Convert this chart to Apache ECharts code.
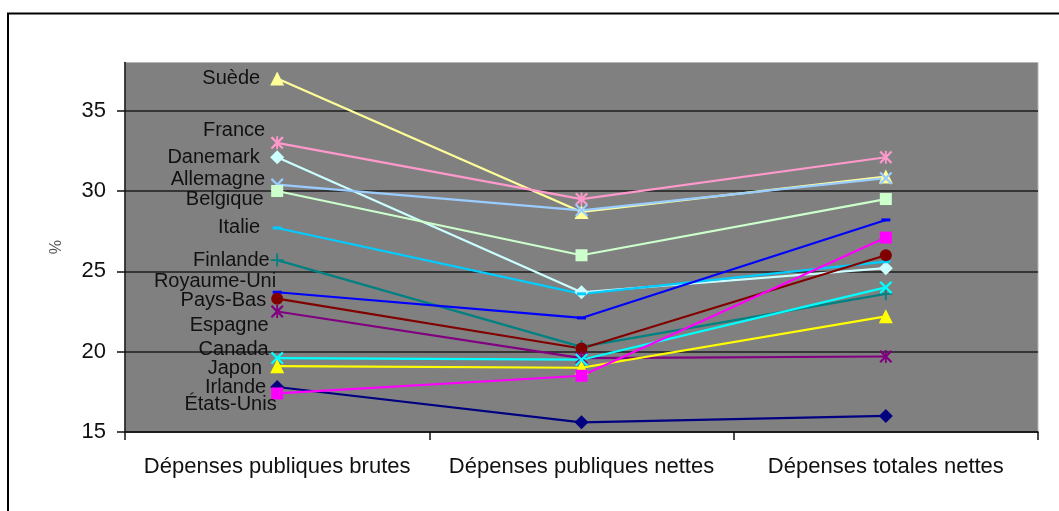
<!DOCTYPE html>
<html>
<head>
<meta charset="utf-8">
<script src="https://cdn.jsdelivr.net/npm/echarts@6/dist/echarts.min.js"></script>
<style>
  html, body { margin: 0; padding: 0; background: #fff; }
  #chart { width: 1059px; height: 511px; }
</style>
</head>
<body>
<div id="chart"></div>
<script>
// Categories (x axis) and y-axis ticks
const categories = ['Dépenses publiques brutes', 'Dépenses publiques nettes', 'Dépenses totales nettes'];
const yTicks = [15, 20, 25, 30, 35];

// Country names
const countries = ['Suède', 'France', 'Danemark', 'Allemagne', 'Belgique', 'Italie', 'Finlande',
  'Royaume-Uni', 'Pays-Bas', 'Espagne', 'Canada', 'Japon', 'Irlande', 'États-Unis'];

// Social expenditure, % of GDP: gross public, net public, net total
const suede      = [37.0, 28.7, 30.9];
const france     = [33.0, 29.5, 32.1];
const danemark   = [32.1, 23.7, 25.2];
const allemagne  = [30.4, 28.8, 30.8];
const belgique   = [30.0, 26.0, 29.5];
const italie     = [27.7, 23.6, 25.6];
const finlande   = [25.7, 20.3, 23.6];
const royaumeUni = [23.7, 22.1, 28.2];
const paysBas    = [23.3, 20.2, 26.0];
const espagne    = [22.5, 19.6, 19.7];
const canada     = [19.6, 19.5, 24.0];
const japon      = [19.1, 19.0, 22.2];
const irlande    = [17.8, 15.6, 16.0];
const etatsUnis  = [17.4, 18.5, 27.1];

const values = [suede, france, danemark, allemagne, belgique, italie, finlande,
  royaumeUni, paysBas, espagne, canada, japon, irlande, etatsUnis];

// Marker shapes
const X_PATH = 'M0,1.2L1.2,0L5,3.8L8.8,0L10,1.2L6.2,5L10,8.8L8.8,10L5,6.2L1.2,10L0,8.8L3.8,5Z';
const SYM = {
  tri: 'triangle',
  diamond: 'diamond',
  square: 'rect',
  circle: 'circle',
  cross: 'path://' + X_PATH,
  star: 'path://' + X_PATH + 'M4.3,0H5.7V10H4.3Z',
  plus: 'path://M4.3,0H5.7V10H4.3ZM0,4.3H10V5.7H0Z',
  dash: 'path://M0,0H10V3H0Z'
};

// Per-series look: colour, marker, marker size, name-label gap and vertical nudge
const looks = [
  { color: '#FFFF99', sym: SYM.tri,     size: 14,     gap: 17,  dy: 0 },
  { color: '#FF99CC', sym: SYM.star,    size: 13,     gap: 12,  dy: -12 },
  { color: '#CCFFFF', sym: SYM.diamond, size: 14,     gap: 17.5, dy: 0 },
  { color: '#99CCFF', sym: SYM.cross,   size: 13,     gap: 12,  dy: -5 },
  { color: '#CCFFCC', sym: SYM.square,  size: 12,     gap: 13.5, dy: 8 },
  { color: '#00CCFF', sym: SYM.dash,    size: [9, 3], gap: 17,  dy: 0 },
  { color: '#008080', sym: SYM.plus,    size: 13,     gap: 7.5, dy: 0 },
  { color: '#0000FF', sym: SYM.dash,    size: [9, 3], gap: 1,   dy: -10.5 },
  { color: '#800000', sym: SYM.circle,  size: 12,     gap: 11,  dy: 2 },
  { color: '#800080', sym: SYM.star,    size: 13,     gap: 8.5, dy: 14 },
  { color: '#00FFFF', sym: SYM.cross,   size: 13,     gap: 8.5, dy: -9 },
  { color: '#FFFF00', sym: SYM.tri,     size: 14,     gap: 15,  dy: 2 },
  { color: '#000080', sym: SYM.diamond, size: 14,     gap: 11,  dy: 0 },
  { color: '#FF00FF', sym: SYM.square,  size: 12,     gap: 0.5, dy: 11 }
];

const FONT = '"Liberation Sans", Arial, sans-serif';

const series = countries.map((name, i) => {
  const lk = looks[i];
  const half = Array.isArray(lk.size) ? lk.size[0] / 2 : lk.size / 2;
  const data = values[i].map((v, j) => {
    if (j !== 0) return v;
    return {
      value: v,
      label: {
        show: true,
        position: 'left',
        distance: 0,
        offset: [-(lk.gap - half), lk.dy],
        formatter: name,
        color: '#111',
        fontSize: 20,
        fontFamily: FONT
      }
    };
  });
  return {
    name,
    type: 'line',
    data,
    symbol: lk.sym,
    symbolSize: lk.size,
    showAllSymbol: true,
    color: lk.color,
    lineStyle: { color: lk.color, width: 2.2 },
    itemStyle: { color: lk.color, borderColor: lk.color, borderWidth: 0 },
    label: { show: false },
    emphasis: { disabled: true },
    animation: false
  };
});

const chart = echarts.init(document.getElementById('chart'), null, { renderer: 'canvas' });
chart.setOption({
  backgroundColor: '#ffffff',
  animation: false,
  textStyle: { fontFamily: FONT },
  graphic: [{
    type: 'rect',
    silent: true,
    z: -10,
    shape: { x: 8, y: 13.5, width: 1200, height: 700 },
    style: { fill: 'none', stroke: '#000', lineWidth: 2 }
  }],
  grid: {
    left: 125, right: 21, top: 62.5, bottom: 79,
    show: true,
    backgroundColor: '#808080',
    borderColor: '#b4b4b4',
    borderWidth: 1
  },
  xAxis: {
    type: 'category',
    data: categories,
    boundaryGap: true,
    axisLine: { show: true, lineStyle: { color: '#111', width: 1.5 } },
    axisTick: { show: true, length: 8, inside: false, alignWithLabel: false, lineStyle: { color: '#111', width: 1.5 } },
    axisLabel: { color: '#111', fontSize: 22, margin: 24, fontFamily: FONT, interval: 0 },
    splitLine: { show: false }
  },
  yAxis: {
    type: 'value',
    min: 15, max: 38, interval: 5,
    name: '%',
    nameLocation: 'middle',
    nameGap: 60,
    nameRotate: 90,
    nameTextStyle: { color: '#555', fontSize: 16, fontFamily: FONT },
    axisLine: { show: true, lineStyle: { color: '#111', width: 1.5 } },
    axisTick: { show: true, length: 8, inside: false, customValues: yTicks, lineStyle: { color: '#111', width: 1.5 } },
    axisLabel: {
      color: '#111', fontSize: 22, margin: 19, fontFamily: FONT,
      customValues: yTicks,
      formatter: v => (v % 5 === 0 ? String(v) : '')
    },
    splitLine: {
      show: true,
      lineStyle: { color: ['#1e1e1e', '#1e1e1e', '#1e1e1e', '#1e1e1e', '#1e1e1e', 'rgba(0,0,0,0)'], width: 1.5 }
    }
  },
  tooltip: { show: false },
  legend: { show: false },
  series
});
</script>
</body>
</html>
